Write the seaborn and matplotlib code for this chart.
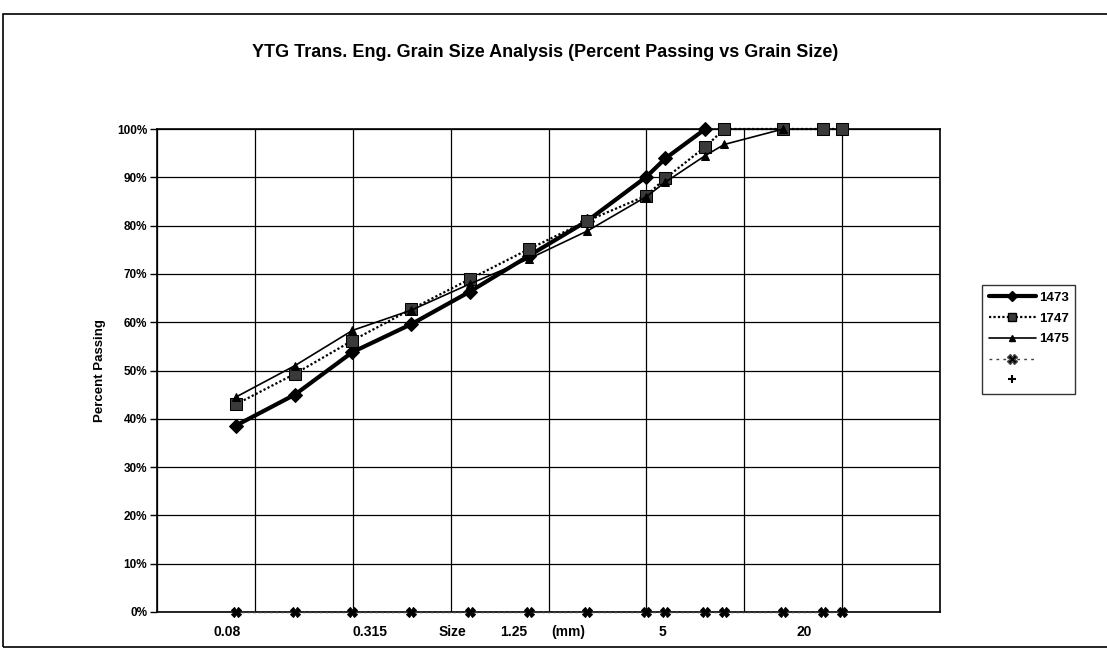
import numpy as np
import matplotlib
matplotlib.use("Agg")
import matplotlib.pyplot as plt
from matplotlib.ticker import PercentFormatter, FixedLocator, NullLocator
from matplotlib.lines import Line2D
from matplotlib.patches import Rectangle
import seaborn as sns

# sieve sizes (mm) and percent passing
sizes = [0.08, 0.16, 0.315, 0.63, 1.25, 2.5, 5, 10, 12.5, 20, 25, 50, 80, 100]

sizes_1473 = [0.08, 0.16, 0.315, 0.63, 1.25, 2.5, 5, 10, 12.5, 20]
pass_1473 = [0.386, 0.450, 0.538, 0.596, 0.663, 0.737, 0.810, 0.901, 0.939, 1.00]

sizes_1747 = [0.08, 0.16, 0.315, 0.63, 1.25, 2.5, 5, 10, 12.5, 20, 25, 50, 80, 100]
pass_1747 = [0.430, 0.493, 0.562, 0.627, 0.689, 0.751, 0.810, 0.862, 0.898, 0.963,
             1.00, 1.00, 1.00, 1.00]

sizes_1475 = [0.08, 0.16, 0.315, 0.63, 1.25, 2.5, 5, 10, 12.5, 20, 25, 50]
pass_1475 = [0.445, 0.510, 0.583, 0.625, 0.679, 0.731, 0.789, 0.860, 0.890, 0.945,
             0.968, 1.00]

zero_line = [0.0] * len(sizes)

legend_labels = ["1473", "1747", "1475", "", ""]
x_labels = ["0.08", "0.315", "Size", "1.25", "(mm)", "5", "20"]
x_label_pos = [0.089, 0.272, 0.377, 0.455, 0.525, 0.646, 0.826]  # axes fraction

sns.set_style("white")
plt.rcParams["font.family"] = ["Liberation Sans", "DejaVu Sans"]
plt.rcParams["text.color"] = "black"
plt.rcParams["axes.labelcolor"] = "black"
plt.rcParams["xtick.color"] = "black"
plt.rcParams["ytick.color"] = "black"

fig = plt.figure(figsize=(11.07, 6.52), dpi=100)
ax = fig.add_axes([157 / 1107, 40 / 652, 783 / 1107, 483 / 652])

sns.lineplot(x=sizes_1473, y=pass_1473, ax=ax, color="black", lw=3.0,
             marker="D", markersize=7, markeredgecolor="black", sort=False)
sns.lineplot(x=sizes_1747, y=pass_1747, ax=ax, color="black", lw=1.6, ls=(0, (1, 1)),
             marker="s", markersize=8.5, markerfacecolor="#3a3a3a",
             markeredgecolor="black", sort=False)
sns.lineplot(x=sizes_1475, y=pass_1475, ax=ax, color="black", lw=1.2,
             marker="^", markersize=6, markeredgecolor="black", sort=False)
sns.lineplot(x=sizes, y=zero_line, ax=ax, color="#444444", lw=1.0, ls=(0, (2, 2)),
             marker="X", markersize=7, markerfacecolor="black",
             markeredgecolor="black", sort=False)
for ln in ax.lines:
    ln.set_clip_on(False)
    ln.set_zorder(3)

# log size axis, gridlines every half decade, no tick labels
ax.set_xscale("log")
ax.set_xlim(10 ** -1.5, 10 ** 2.5)
ax.set_ylim(0, 1.0)
ax.xaxis.set_major_locator(FixedLocator(10 ** np.arange(-1.5, 2.51, 0.5)))
ax.xaxis.set_minor_locator(NullLocator())
ax.set_xticklabels([])
ax.tick_params(axis="x", length=0)
ax.set_yticks(np.arange(0, 1.01, 0.1))
ax.yaxis.set_major_formatter(PercentFormatter(1.0, decimals=0))
ax.tick_params(axis="y", direction="out", length=5, width=1, left=True,
               labelsize=8.5, pad=2)
for t in ax.get_yticklabels():
    t.set_fontweight("bold")
ax.grid(True, color="black", lw=0.9)
for s in ax.spines.values():
    s.set_color("black")
    s.set_linewidth(1.2)

ax.set_xlabel("")
ax.set_ylabel("Percent Passing", fontsize=9.5, fontweight="bold")
ax.yaxis.set_label_coords(-0.065, 0.5)

# x labels in the original are loose text boxes under the axis
for lab, xp in zip(x_labels, x_label_pos):
    ax.text(xp, -0.042, lab, transform=ax.transAxes, ha="center", va="center",
            fontsize=10, fontweight="bold")

fig.text(545 / 1107, 0.92, "YTG Trans. Eng. Grain Size Analysis (Percent Passing vs Grain Size)",
         ha="center", va="center", fontsize=13, fontweight="bold")

handles = [
    Line2D([], [], color="black", lw=3.0, marker="D", markersize=5),
    Line2D([], [], color="black", lw=1.6, ls=(0, (1, 1)), marker="s", markersize=6,
           markerfacecolor="#3a3a3a"),
    Line2D([], [], color="black", lw=1.2, marker="^", markersize=5),
    Line2D([], [], color="#444444", lw=1.0, ls=(0, (2, 3)), marker="X", markersize=7,
           markerfacecolor="black"),
    Line2D([], [], color="black", lw=0, marker="+", markersize=6, markeredgewidth=1.5),
]
leg = fig.legend(handles, legend_labels, loc="upper left",
                 bbox_to_anchor=(982 / 1107, 1 - 285 / 652), borderaxespad=0,
                 frameon=True, fancybox=False, edgecolor="black", fontsize=9.5,
                 handlelength=3.6, handletextpad=0.2, labelspacing=0.65,
                 borderpad=0.5)
leg.get_frame().set_linewidth(1.0)
for t in leg.get_texts():
    t.set_fontweight("bold")

# outer chart-area frame
fig.add_artist(Rectangle((3 / 1107, 5 / 652), 1.2, 1 - 19 / 652, transform=fig.transFigure,
                         fill=False, lw=1.2, edgecolor="black"))

fig.savefig("out.png", dpi=100)
